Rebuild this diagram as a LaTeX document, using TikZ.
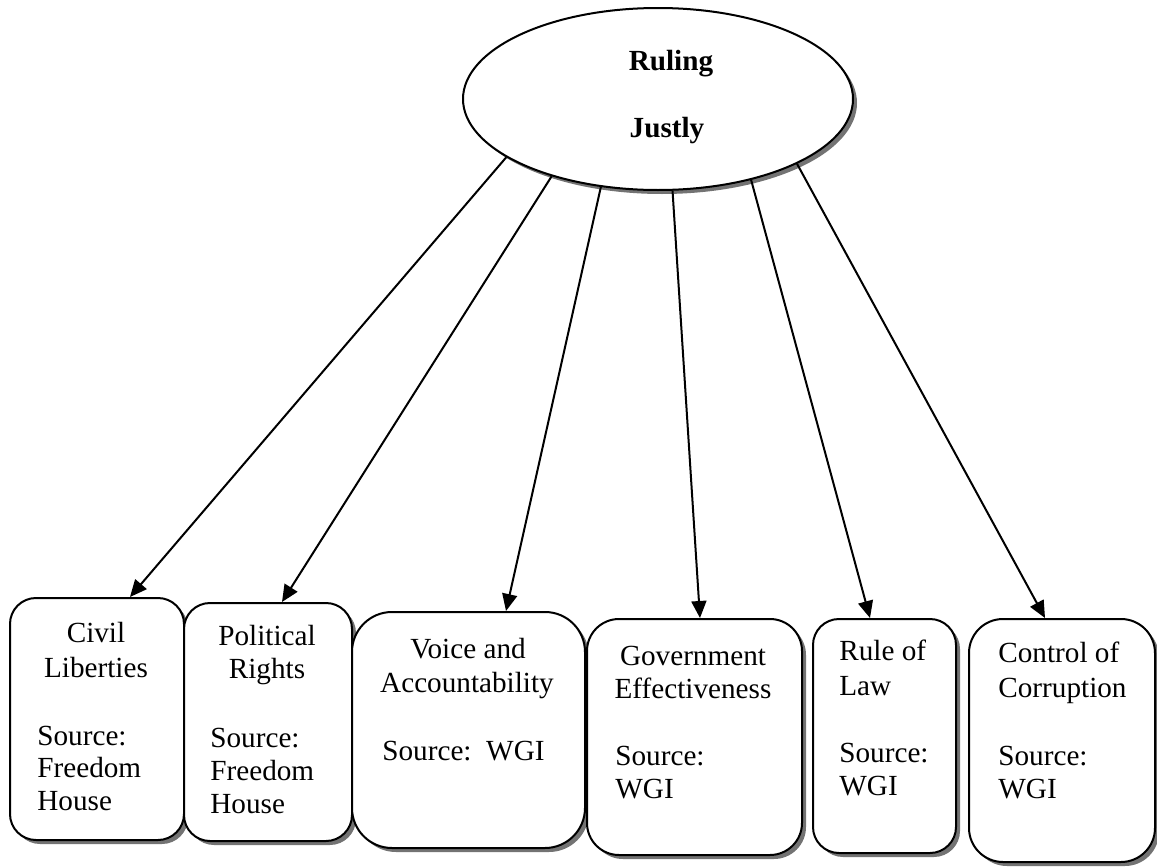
\documentclass[tikz,border=0pt]{standalone}
\usepackage{fontspec}
\setmainfont{Liberation Serif}
\usetikzlibrary{shapes.geometric,shadows,arrows.meta}
\begin{document}
\begin{tikzpicture}[x=0.5pt,y=-0.5pt,
  shad/.style={drop shadow={shadow xshift=2pt,shadow yshift=-2pt,fill=black!55,opacity=1}},
  box/.style={draw,line width=1pt,rounded corners=13pt,fill=white,shad,inner sep=0pt},
  ell/.style={draw,ellipse,line width=1pt,fill=white,shad,inner sep=0pt},
  lbl/.style={font=\fontsize{14.6}{16}\selectfont,inner sep=0pt},
  lc/.style={lbl,anchor=base},
  lw/.style={lbl,anchor=base west},
  ttl/.style={font=\fontsize{14.6}{16}\selectfont\bfseries,inner sep=0pt,anchor=base},
  arr/.style={-{Triangle[length=8.5pt,width=7.5pt]},line width=1pt}]
\useasboundingbox (0,0) rectangle (1157,867);
% ellipse
\node[ell,minimum width=195pt,minimum height=91pt] (top) at (658,99) {};
\node[ttl] (tr) at (671,70) {Ruling};
\node[ttl] (tj) at (667,137) {Justly};
% boxes
\node[box,minimum width=87pt,minimum height=121pt] (b1) at (97,719) {};
\node[box,minimum width=84pt,minimum height=119pt] (b2) at (268,722) {};
\node[box,rounded corners=20pt,minimum width=116.5pt,minimum height=118pt] (b3) at (468.5,730) {};
\node[box,rounded corners=16pt,minimum width=107.5pt,minimum height=118pt] (b4) at (694.5,737) {};
\node[box,minimum width=71.5pt,minimum height=117pt] (b5) at (884.5,736) {};
\node[box,rounded corners=17pt,minimum width=93pt,minimum height=121.5pt] (b6) at (1062,740.5) {};
% texts box 1
\node[lc] (b1a) at (96,642) {Civil};
\node[lc] (b1b) at (96,677) {Liberties};
\node[lw] (b1c) at (37,745) {Source:};
\node[lw] (b1d) at (37,777) {Freedom};
\node[lw] (b1e) at (37,810) {House};
% box 2
\node[lc] (b2a) at (267,645) {Political};
\node[lc] (b2b) at (267,678) {Rights};
\node[lw] (b2c) at (210,747) {Source:};
\node[lw] (b2d) at (210,780) {Freedom};
\node[lw] (b2e) at (210,813) {House};
% box 3
\node[lc] (b3a) at (468,658) {Voice and};
\node[lc] (b3b) at (467,692) {Accountability};
\node[lw] (b3c) at (382,760) {Source:\ \ WGI};
% box 4
\node[lc] (b4a) at (693,665) {Government};
\node[lc] (b4b) at (693,698) {Effectiveness};
\node[lw] (b4c) at (615,765) {Source:};
\node[lw] (b4d) at (615,798) {WGI};
% box 5
\node[lw] (b5a) at (839,660) {Rule of};
\node[lw] (b5b) at (839,695) {Law};
\node[lw] (b5c) at (839,762) {Source:};
\node[lw] (b5d) at (839,795) {WGI};
% box 6
\node[lw] (b6a) at (998,662) {Control of};
\node[lw] (b6b) at (998,697) {Corruption};
\node[lw] (b6c) at (998,765) {Source:};
\node[lw] (b6d) at (998,798) {WGI};
% arrows
\draw[arr] (top.201.7) -- ([xshift=16.5pt]b1.north);
\draw[arr] (top.216.4) -- ([xshift=7pt]b2.north);
\draw[arr] (top.237.4) -- ([xshift=18.75pt]b3.north);
\draw[arr] (top.279.3) -- ([xshift=2.75pt]b4.north);
\draw[arr] (top.319.4) -- ([xshift=-7.25pt]b5.north);
\draw[arr] (top.335.1) -- ([xshift=-8.5pt]b6.north);
\end{tikzpicture}
\end{document}
